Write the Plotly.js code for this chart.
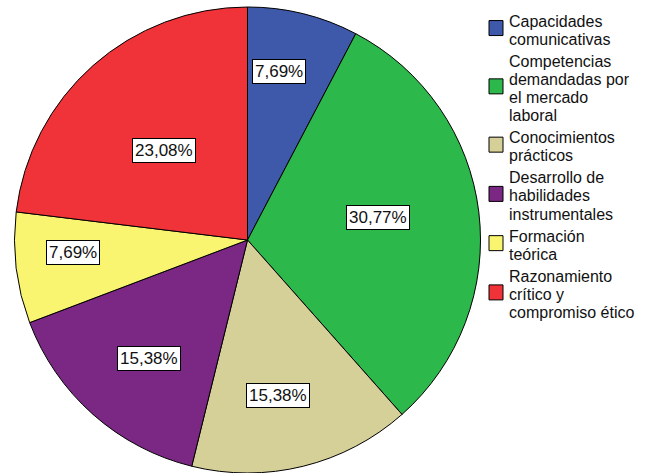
<!DOCTYPE html>
<html>
<head>
<meta charset="utf-8">
<script src="https://cdn.plot.ly/plotly-3.0.1.min.js"></script>
<style>html,body{margin:0;padding:0;background:#fff;}#chart{width:650px;height:473px;}</style>
</head>
<body>
<div id="chart"></div>
<script>
// ---- data ----
const categories = [
  "Capacidades comunicativas",
  "Competencias demandadas por el mercado laboral",
  "Conocimientos prácticos",
  "Desarrollo de habilidades instrumentales",
  "Formación teórica",
  "Razonamiento crítico y compromiso ético"
];
const counts = [1, 4, 2, 2, 1, 3];
const legendLines = [
  ["Capacidades", "comunicativas"],
  ["Competencias", "demandadas por", "el mercado", "laboral"],
  ["Conocimientos", "prácticos"],
  ["Desarrollo de", "habilidades", "instrumentales"],
  ["Formación", "teórica"],
  ["Razonamiento", "crítico y", "compromiso ético"]
];

// ---- style / layout ----
const colors = ["#3E58AA", "#2DB84C", "#D5CF98", "#7B2784", "#FAF570", "#F03239"];
const W = 650, H = 473;
const CX = 247.5, CY = 240, R = 233;
const labelRadius = [0.738, 0.566, 0.682, 0.661, 0.753, 0.524];
const labelNudgeDeg = [-3.2, -2.7, 2.8, -2.0, 2.7, -1.3];
const FONT = "Liberation Sans, Arial, sans-serif";

const px = x => x / W;
const py = y => 1 - y / H;

const total = counts.reduce((a, b) => a + b, 0);
const annotations = [];
const shapes = [];

// percentage labels in boxes
let cum = 0;
counts.forEach((v, i) => {
  const mid = (cum + v / 2) / total * 360 + labelNudgeDeg[i];
  cum += v;
  const a = mid * Math.PI / 180;
  const r = R * labelRadius[i];
  const x = CX + r * Math.sin(a);
  const y = CY - r * Math.cos(a);
  annotations.push({
    xref: "paper", yref: "paper", x: px(x), y: py(y),
    xanchor: "center", yanchor: "middle", showarrow: false,
    text: (v / total * 100).toFixed(2).replace(".", ",") + "%",
    font: {family: FONT, size: 17, color: "#111"},
    bgcolor: "#ffffff", bordercolor: "#000000", borderwidth: 1, borderpad: 2
  });
});

// manual legend
const lineH = 18.1, itemGap = 4;
let ly = 21;
legendLines.forEach((lines, i) => {
  const n = lines.length;
  const mid = ly + (n - 1) * lineH / 2 - 2;
  shapes.push({
    type: "rect", xref: "paper", yref: "paper",
    x0: px(489), x1: px(503), y0: py(mid - 7.5), y1: py(mid + 7.5),
    fillcolor: colors[i], line: {color: "#000", width: 1}
  });
  lines.forEach((t, k) => {
    annotations.push({
      xref: "paper", yref: "paper", x: px(508), y: py(ly + k * lineH),
      xanchor: "left", yanchor: "middle", showarrow: false, text: t,
      font: {family: FONT, size: 16, color: "#111"}, borderpad: 0
    });
  });
  ly += n * lineH + itemGap;
});

const data = [{
  type: "pie",
  labels: categories,
  values: counts,
  sort: false,
  direction: "clockwise",
  rotation: 0,
  textinfo: "none",
  hoverinfo: "label+percent",
  marker: {colors: colors, line: {color: "#000000", width: 1}},
  domain: {x: [px(CX - R), px(CX + R)], y: [py(CY + R), py(CY - R)]}
}];

const layout = {
  width: W, height: H,
  margin: {l: 0, r: 0, t: 0, b: 0, autoexpand: false},
  paper_bgcolor: "#ffffff",
  showlegend: false,
  annotations: annotations,
  shapes: shapes,
  font: {family: FONT}
};

Plotly.newPlot("chart", data, layout, {displayModeBar: false, staticPlot: true});
</script>
</body>
</html>
